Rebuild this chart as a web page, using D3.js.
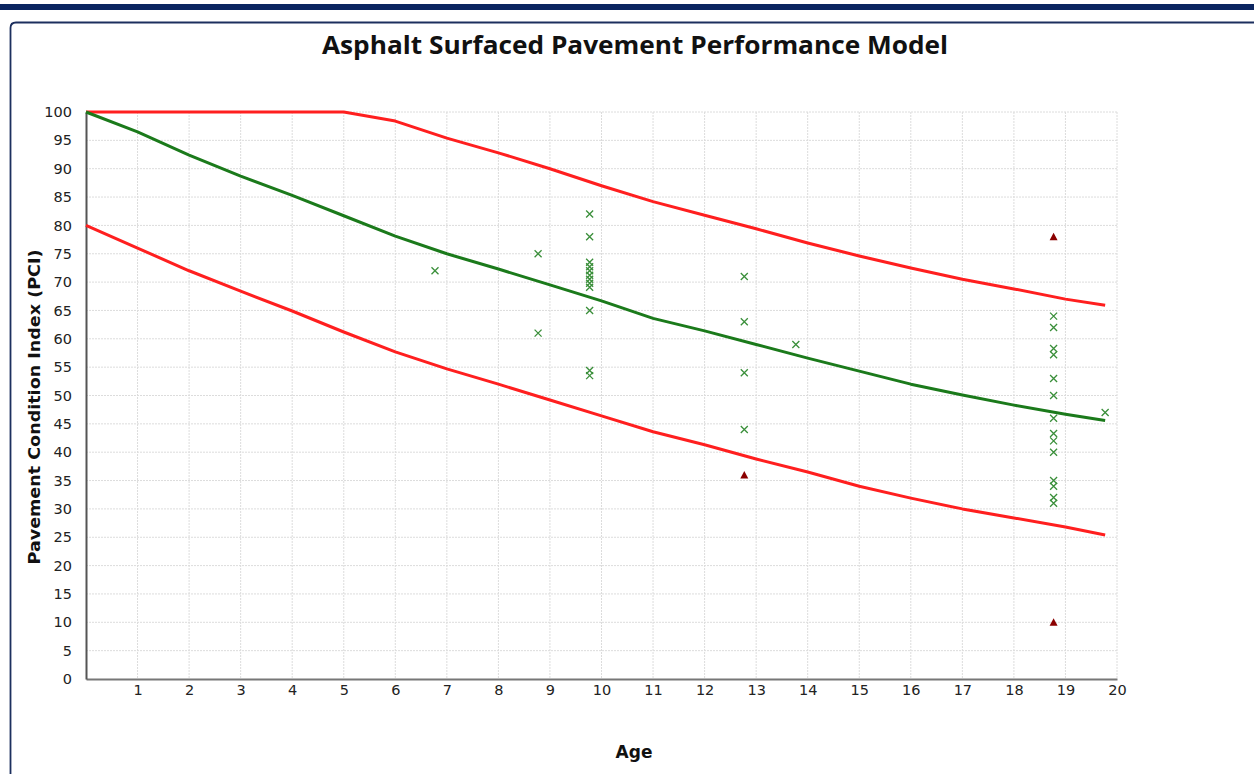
<!DOCTYPE html>
<html>
<head>
<meta charset="utf-8">
<script src="https://cdn.jsdelivr.net/npm/d3@7"></script>
<style>
  body { margin: 0; background: #fff; }
  svg { display: block; }
  .grid line { stroke: #dcdcdc; stroke-dasharray: 2,1; }
  .tick text { font-family: "DejaVu Sans", Verdana, sans-serif; font-size: 14.5px; fill: #222; }
</style>
</head>
<body>
<svg id="canvas" width="1254" height="774"></svg>
<script>
// model curves: age knots and PCI values
let curveAges = [0,1,2,3,4,5,6,7,8,9,10,11,12,13,14,15,16,17,18,19,19.77];
let upperPCI = [100,100,100,100,100,100,98.4,95.4,92.8,90,87,84.2,81.8,79.4,76.9,74.6,72.5,70.5,68.8,67,65.9];
let modelPCI = [100,96.5,92.4,88.7,85.3,81.7,78.1,75,72.3,69.5,66.7,63.6,61.4,59,56.6,54.3,52,50.1,48.3,46.7,45.6];
let lowerPCI = [80,76,72,68.4,64.9,61.2,57.7,54.7,52,49.2,46.4,43.6,41.3,38.8,36.5,34,31.9,30,28.4,26.8,25.4];

// inspected sections
let pointAges = [6.77,8.77,8.77,9.77,9.77,9.77,9.77,9.77,9.77,9.77,9.77,9.77,9.77,9.77,9.77,
                 12.77,12.77,12.77,12.77,13.77,
                 18.77,18.77,18.77,18.77,18.77,18.77,18.77,18.77,18.77,18.77,18.77,18.77,18.77,18.77,19.77];
let pointPCI  = [72,75,61,82,78,73.5,72.7,72,71.2,70.5,69.8,69.1,65,54.4,53.5,
                 71,63,54,44,59,
                 64,62,58.3,57.2,53,50,46,43.3,42,40,35,34,32,31,47];

// outliers
let outlierAges = [12.77,18.77,18.77];
let outlierPCI  = [36,78,10];

let xTicks = d3.range(1,21);
let yTicks = d3.range(0,101,5);

let svg = d3.select("#canvas");

// frame
svg.append('rect').attr('x',0).attr('y',4).attr('width',1254).attr('height',6).attr('fill','#0b2560');
svg.append('path')
   .attr('d','M10.5,774 L10.5,28 Q10.5,22.5 16,22.5 L1254,22.5')
   .attr('fill','none').attr('stroke','#1c2f5e').attr('stroke-width',1.8);

let x = d3.scaleLinear().domain([0,20]).range([86,1117]);
let y = d3.scaleLinear().domain([0,100]).range([679,112]);

// grid
let grid = svg.append('g').attr('class','grid');
grid.selectAll('.gx').data(xTicks).enter().append('line')
    .attr('x1',d=>x(d)).attr('x2',d=>x(d)).attr('y1',y(100)).attr('y2',y(0));
grid.selectAll('.gy').data(yTicks.filter(d=>d>0)).enter().append('line')
    .attr('x1',x(0)).attr('x2',x(20)).attr('y1',d=>y(d)).attr('y2',d=>y(d));

// axes
let xAxis = svg.append('g').attr('transform','translate(0,'+y(0)+')')
    .call(d3.axisBottom(x).tickValues(xTicks).tickSize(0).tickPadding(6));
xAxis.select('.domain').attr('stroke','#777').attr('stroke-width',2);
let yAxis = svg.append('g').attr('transform','translate('+x(0)+',0)')
    .call(d3.axisLeft(y).tickValues(yTicks).tickSize(0).tickPadding(14));
yAxis.select('.domain').attr('stroke','#555').attr('stroke-width',2);

// curves
let line = d3.line().x(d=>x(d[0])).y(d=>y(d[1]));
let curves = [[upperPCI,'#ff1f1f'],[lowerPCI,'#ff1f1f'],[modelPCI,'#1b7a1b']];
curves.forEach(c=>{
    svg.append('path')
       .datum(curveAges.map((a,i)=>[a,c[0][i]]))
       .attr('d',line).attr('fill','none')
       .attr('stroke',c[1]).attr('stroke-width',3).attr('stroke-linejoin','round');
});

// sample points
svg.append('g').selectAll('path').data(pointAges.map((a,i)=>[a,pointPCI[i]])).enter()
   .append('path')
   .attr('transform',d=>'translate('+x(d[0])+','+y(d[1])+')')
   .attr('d','M-3.5,-3.5L3.5,3.5M-3.5,3.5L3.5,-3.5')
   .attr('stroke','#3a8f3a').attr('stroke-width',1.3).attr('fill','none');

svg.append('g').selectAll('path').data(outlierAges.map((a,i)=>[a,outlierPCI[i]])).enter()
   .append('path')
   .attr('transform',d=>'translate('+x(d[0])+','+y(d[1])+')')
   .attr('d','M0,-4L4,3.5L-4,3.5Z')
   .attr('fill','#8b0000');

// titles
svg.append('text').attr('x',635).attr('y',54).attr('text-anchor','middle')
   .attr('font-family','"Open Sans", sans-serif').attr('font-weight','bold').attr('font-size',25)
   .attr('textLength',626).attr('lengthAdjust','spacingAndGlyphs')
   .attr('fill','#111')
   .text('Asphalt Surfaced Pavement Performance Model');
svg.append('text').attr('transform','translate(40,407) rotate(-90)').attr('text-anchor','middle')
   .attr('font-family','"DejaVu Sans", Verdana, sans-serif').attr('font-weight','bold').attr('font-size',16)
   .attr('textLength',315).attr('lengthAdjust','spacingAndGlyphs')
   .attr('fill','#111')
   .text('Pavement Condition Index (PCI)');
svg.append('text').attr('x',634).attr('y',758).attr('text-anchor','middle')
   .attr('font-family','"DejaVu Sans", Verdana, sans-serif').attr('font-weight','bold').attr('font-size',17)
   .attr('fill','#111')
   .text('Age');
</script>
</body>
</html>
